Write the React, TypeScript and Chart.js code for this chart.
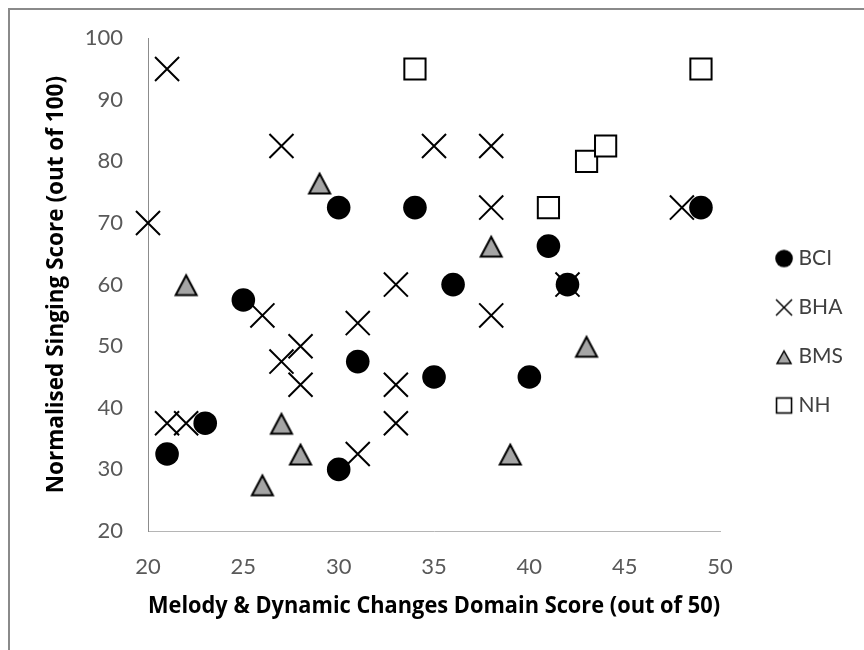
import React, { useEffect, useRef } from "react";
import { Chart, registerables } from "chart.js";

Chart.register(...registerables);

// ---- Data ----
const seriesNames = ["BCI", "BHA", "BMS", "NH"];

const bciX = [21, 23, 25, 30, 31, 30, 34, 35, 36, 40, 41, 42, 49];
const bciY = [32.5, 37.5, 57.5, 30, 47.5, 72.5, 72.5, 45, 60, 45, 66.25, 60, 72.5];

const bhaX = [21, 20, 27, 35, 38, 38, 48, 33, 42, 38, 26, 27, 28, 28, 31, 33, 33, 31, 21, 22];
const bhaY = [95, 70, 82.5, 82.5, 82.5, 72.5, 72.5, 60, 60, 55, 55, 47.5, 50, 43.75, 53.75, 43.75, 37.5, 32.5, 37.5, 37.5];

const bmsX = [29, 22, 27, 28, 26, 38, 43, 39];
const bmsY = [76.5, 60, 37.5, 32.5, 27.5, 66.25, 50, 32.5];

const nhX = [34, 49, 41, 43, 44];
const nhY = [95, 95, 72.5, 80, 82.5];

const xTicksMin = 20;
const xTicksMax = 50;
const xTickStep = 5;
const yTicksMin = 20;
const yTicksMax = 100;
const yTickStep = 10;

const xTitle = "Melody & Dynamic Changes Domain Score (out of 50)";
const yTitle = "Normalised Singing Score (out of 100)";

const FONT = "Lato";
const TITLE_FONT = "Open Sans";

function pts(xs: number[], ys: number[]) {
  return xs.map((x, i) => ({ x, y: ys[i] }));
}

function makeCanvas(size: number, draw: (ctx: CanvasRenderingContext2D) => void) {
  const c = document.createElement("canvas");
  c.width = size;
  c.height = size;
  const ctx = c.getContext("2d")!;
  draw(ctx);
  return c;
}

function triangleImg(size: number, top: number, base: number, left: number, right: number, lw: number) {
  return makeCanvas(size, (ctx) => {
    ctx.beginPath();
    ctx.moveTo(size / 2, top);
    ctx.lineTo(right, base);
    ctx.lineTo(left, base);
    ctx.closePath();
    ctx.fillStyle = "#a5a5a5";
    ctx.fill();
    ctx.lineJoin = "miter";
    ctx.lineWidth = lw;
    ctx.strokeStyle = "#000";
    ctx.stroke();
  });
}

export default function App() {
  const ref = useRef<HTMLCanvasElement | null>(null);

  useEffect(() => {
    if (!ref.current) return;

    const triData = triangleImg(28, 4.7, 24.5, 3.5, 24.5, 2);
    const legCircle = makeCanvas(20, (ctx) => {
      ctx.beginPath();
      ctx.arc(10, 10, 8.8, 0, Math.PI * 2);
      ctx.fillStyle = "#000";
      ctx.fill();
    });
    const legCross = makeCanvas(20, (ctx) => {
      ctx.beginPath();
      ctx.moveTo(2, 2);
      ctx.lineTo(18, 18);
      ctx.moveTo(18, 2);
      ctx.lineTo(2, 18);
      ctx.lineWidth = 1.5;
      ctx.strokeStyle = "#000";
      ctx.stroke();
    });
    const legTri = triangleImg(20, 4.5, 17, 3, 17, 1.5);
    const legSquare = makeCanvas(20, (ctx) => {
      ctx.fillStyle = "#fff";
      ctx.fillRect(2.5, 2.5, 15, 15);
      ctx.lineWidth = 1.6;
      ctx.strokeStyle = "#000";
      ctx.strokeRect(2.5, 2.5, 15, 15);
    });
    const legendImgs = [legCircle, legCross, legTri, legSquare];

    const bgPlugin = {
      id: "bgFrame",
      beforeDraw(chart: any) {
        const { ctx, width, height } = chart;
        ctx.save();
        ctx.fillStyle = "#fff";
        ctx.fillRect(0, 0, width, height);
        ctx.strokeStyle = "#8a8a8a";
        ctx.lineWidth = 2;
        ctx.beginPath();
        ctx.moveTo(9, height + 2);
        ctx.lineTo(9, 9);
        ctx.lineTo(width + 2, 9);
        ctx.stroke();
        ctx.restore();
      },
    };

    const chart = new Chart(ref.current, {
      type: "scatter",
      data: {
        datasets: [
          {
            label: seriesNames[0],
            data: pts(bciX, bciY),
            pointStyle: "circle",
            pointRadius: 11.8,
            pointHoverRadius: 11.8,
            backgroundColor: "#000",
            borderColor: "#000",
            borderWidth: 0,
            clip: false,
          },
          {
            label: seriesNames[1],
            data: pts(bhaX, bhaY),
            pointStyle: "crossRot",
            pointRadius: 17,
            pointHoverRadius: 17,
            backgroundColor: "#000",
            borderColor: "#000",
            borderWidth: 2,
            clip: false,
          },
          {
            label: seriesNames[2],
            data: pts(bmsX, bmsY),
            pointStyle: triData as any,
            pointRadius: 12,
            pointHoverRadius: 12,
            backgroundColor: "#a5a5a5",
            borderColor: "#000",
            borderWidth: 2,
            clip: false,
          },
          {
            label: seriesNames[3],
            data: pts(nhX, nhY),
            pointStyle: "rect",
            pointRadius: 15,
            pointHoverRadius: 15,
            backgroundColor: "#fff",
            borderColor: "#000",
            borderWidth: 2,
            clip: false,
          },
        ],
      },
      options: {
        responsive: false,
        animation: false,
        devicePixelRatio: 1,
        events: [],
        layout: { padding: { left: 0, top: 38, right: 11, bottom: 24 } },
        plugins: {
          tooltip: { enabled: false },
          legend: {
            position: "right",
            align: "center",
            labels: {
              usePointStyle: true,
              boxWidth: 8,
              boxHeight: 8,
              padding: 28,
              color: "#404040",
              font: { family: FONT, size: 21 },
              generateLabels: (ch: any) =>
                ch.data.datasets.map((ds: any, i: number) => ({
                  text: ds.label,
                  pointStyle: legendImgs[i],
                  fillStyle: "#000",
                  strokeStyle: "#000",
                  lineWidth: 0,
                  hidden: false,
                  datasetIndex: i,
                  fontColor: "#404040",
                })),
            },
          },
        },
        scales: {
          x: {
            type: "linear",
            min: xTicksMin,
            max: xTicksMax,
            grid: { display: false, drawTicks: false },
            border: { display: true, color: "#b5b5b5", width: 1 },
            ticks: {
              stepSize: xTickStep,
              padding: 23,
              color: "#595959",
              font: { family: FONT, size: 22 },
            },
            title: {
              display: true,
              text: xTitle,
              color: "#000",
              font: { family: TITLE_FONT, size: 22.5, weight: "bold" },
              padding: { top: 0, bottom: 5.5 },
            },
            afterFit: (s: any) => {
              s.height = 95;
            },
          },
          y: {
            type: "linear",
            min: yTicksMin,
            max: yTicksMax,
            grid: { display: false, drawTicks: false },
            border: { display: true, color: "#8c8c8c", width: 1 },
            ticks: {
              stepSize: yTickStep,
              padding: 25,
              color: "#595959",
              font: { family: FONT, size: 22 },
            },
            title: {
              display: true,
              text: yTitle,
              color: "#000",
              font: { family: TITLE_FONT, size: 22.5, weight: "bold" },
              padding: { top: 43.5, bottom: 0 },
            },
            afterFit: (s: any) => {
              s.width = 148;
            },
          },
          y2: {
            type: "linear",
            position: "right",
            display: true,
            grid: { display: false, drawTicks: false },
            border: { display: false },
            ticks: { display: false },
            afterFit: (s: any) => {
              s.width = 32;
            },
          },
        },
      },
      plugins: [bgPlugin],
    } as any);

    return () => chart.destroy();
  }, []);

  return (
    <div style={{ position: "absolute", left: 0, top: 0, width: 864, height: 650 }}>
      <canvas ref={ref} width={864} height={650} style={{ display: "block" }} />
    </div>
  );
}
